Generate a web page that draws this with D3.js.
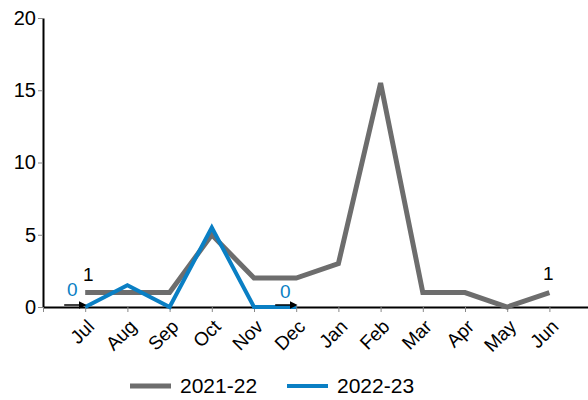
<!DOCTYPE html>
<html>
<head>
<meta charset="utf-8">
<script src="https://cdn.jsdelivr.net/npm/d3@7"></script>
<style>
  body { margin: 0; background: #fff; }
  text { font-family: "Liberation Sans", Arial, sans-serif; }
</style>
</head>
<body>
<div id="c"></div>
<script>
"use strict";

const months = ["Jul","Aug","Sep","Oct","Nov","Dec","Jan","Feb","Mar","Apr","May","Jun"]
const series1Name = "2021-22"
const series1 = [1, 1, 1, 5, 2, 2, 3, 15.5, 1, 1, 0, 1]
const series2Name = "2022-23"
const series2 = [0, 1.5, 0, 5.5, 0, 0]
const yTicks = [0, 5, 10, 15, 20]

const grey = "#6d6d6d"
const blue = "#0a7fc4"

const W = 588, H = 400
const margin = {top: 18, left: 43, bottom: 93}

let svg = d3.select('#c').append('svg')
    .attr('width', W).attr('height', H)

let defs = svg.append('defs')
defs.append('marker')
    .attr('id', 'arr')
    .attr('viewBox', '0 0 10 10')
    .attr('refX', 7).attr('refY', 5)
    .attr('markerWidth', 8).attr('markerHeight', 8)
    .attr('markerUnits', 'userSpaceOnUse')
    .attr('orient', 'auto')
    .append('path')
    .attr('d', 'M0,0L10,5L0,10Z')
    .attr('fill', '#000')

// x: index positions, axis origin at 0, points at 1..12
let xScale = d3.scaleLinear()
    .domain([0, 13])
    .range([margin.left, margin.left + 13 * 42.2])
let yScale = d3.scaleLinear()
    .domain([0, 20])
    .range([H - margin.bottom, margin.top])

// y axis
let yAxis = svg.append('g')
    .attr('transform', 'translate(' + margin.left + ',0)')
    .call(d3.axisLeft(yScale).tickValues(yTicks).tickSize(5).tickSizeOuter(0))
yAxis.select('.domain').attr('stroke', '#000').attr('stroke-width', 2)
yAxis.selectAll('.tick line').attr('stroke', '#888')
yAxis.selectAll('.tick text')
    .attr('font-size', 20).attr('fill', '#000').attr('x', -7)
    .attr('font-family', '"Liberation Sans", Arial, sans-serif')

// x axis
let xAxis = svg.append('g')
    .attr('transform', 'translate(0,' + yScale(0) + ')')
    .call(d3.axisBottom(xScale)
        .tickValues(d3.range(0, 13))
        .tickFormat(i => i == 0 ? "" : months[i - 1])
        .tickSize(5).tickSizeOuter(0))
xAxis.select('.domain').attr('stroke', '#000').attr('stroke-width', 2)
xAxis.selectAll('.tick line').attr('stroke', '#888')
xAxis.selectAll('.tick text')
    .attr('font-size', 19).attr('fill', '#000')
    .attr('font-family', '"Liberation Sans", Arial, sans-serif')
    .attr('text-anchor', 'end')
    .attr('y', 0).attr('dy', '0.35em')
    .attr('transform', 'translate(5,16) rotate(-45)')

let line = d3.line()
    .x((d, i) => xScale(i + 1))
    .y(d => yScale(d))

svg.append('path')
    .datum(series1)
    .attr('fill', 'none')
    .attr('stroke', grey)
    .attr('stroke-width', 5)
    .attr('d', line)

svg.append('path')
    .datum(series2)
    .attr('fill', 'none')
    .attr('stroke', blue)
    .attr('stroke-width', 4)
    .attr('d', line)

// leader arrows
;[0, 5].forEach(i => {
    svg.append('line')
        .attr('x1', xScale(i + 1) - 21).attr('y1', yScale(series2[i]) - 2)
        .attr('x2', xScale(i + 1) - 1).attr('y2', yScale(series2[i]) - 2)
        .attr('stroke', '#000').attr('stroke-width', 1.5)
        .attr('marker-end', 'url(#arr)')
})

// data labels
const labels = [
    {i: 0, v: series1[0], color: '#000', dx: 3, dy: -12},
    {i: 11, v: series1[11], color: '#000', dx: -1, dy: -13},
    {i: 0, v: series2[0], color: blue, dx: -13, dy: -11},
    {i: 5, v: series2[5], color: blue, dx: -11, dy: -9}
]
labels.forEach(l => {
    svg.append('text')
        .attr('x', xScale(l.i + 1) + l.dx)
        .attr('y', yScale(l.v) + l.dy)
        .attr('text-anchor', 'middle')
        .attr('font-size', 19)
        .attr('fill', l.color)
        .text(l.v)
})

// legend
let legend = svg.append('g').attr('transform', 'translate(130,386)')
;[[series1Name, grey, 5, 0], [series2Name, blue, 4, 157]].forEach(d => {
    let g = legend.append('g').attr('transform', 'translate(' + d[3] + ',0)')
    g.append('line')
        .attr('x1', 0).attr('x2', 41).attr('y1', 0).attr('y2', 0)
        .attr('stroke', d[1]).attr('stroke-width', d[2])
    g.append('text')
        .attr('x', 50).attr('y', 0).attr('dy', '0.35em')
        .attr('font-size', 21).attr('fill', '#000')
        .text(d[0])
})
</script>
</body>
</html>
